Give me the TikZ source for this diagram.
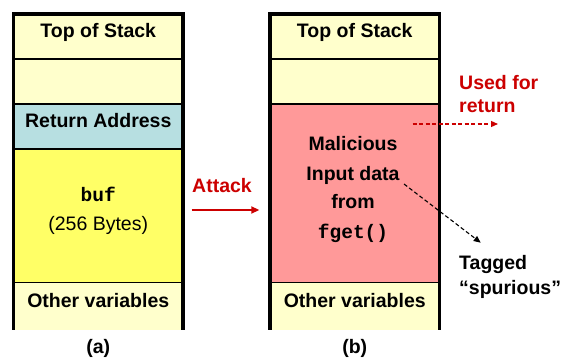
\documentclass[tikz,border=0pt]{standalone}
\usepackage{fontspec}
\setmainfont{Liberation Sans}
\setmonofont{Liberation Mono}
\usetikzlibrary{arrows.meta}
\definecolor{lightyel}{HTML}{FFFFCC}
\definecolor{retblue}{HTML}{B7DFE1}
\definecolor{bufyel}{HTML}{FFFF66}
\definecolor{malpink}{HTML}{FF9999}
\definecolor{atkred}{HTML}{CC0000}
\begin{document}
\begin{tikzpicture}[x=1pt,y=-1pt,
  cell/.style={draw=black, line width=1.3pt, minimum width=169.5pt, inner sep=0pt, outer sep=0pt, anchor=north west},
  frame/.style={line width=3.5pt, line cap=butt, line join=miter},
  txt/.style={font=\fontsize{19.5}{23}\selectfont\bfseries, anchor=base, inner sep=0pt},
  rtxt/.style={font=\fontsize{19.5}{23}\selectfont, anchor=base, inner sep=0pt},
  ttxt/.style={font=\fontsize{19.5}{23}\selectfont\ttfamily\bfseries, anchor=base, inner sep=0pt},
  redtxt/.style={txt, text=atkred},
  leftt/.style={txt, anchor=base west},
  atkarrow/.style={draw=atkred, line width=1.8pt, -{Triangle[length=8pt,width=7pt]}},
  reddash/.style={draw=atkred, line width=1.2pt, dash pattern=on 4pt off 2.5pt, -{Triangle[length=7pt,width=6pt]}},
  blackdash/.style={draw=black, line width=1.1pt, dash pattern=on 4pt off 2.5pt, -{Triangle[length=7pt,width=6pt]}}]
\useasboundingbox[fill=white] (0,0) rectangle (561,358);
% stack (a)
\node[cell, fill=lightyel, minimum height=45pt] (a1) at (13.5,14) {};
\node[cell, fill=lightyel, minimum height=45pt] (a2) at (a1.south west) {};
\node[cell, fill=retblue, minimum height=45pt] (a3) at (a2.south west) {};
\node[cell, fill=bufyel, minimum height=134pt] (a4) at (a3.south west) {};
\node[cell, fill=lightyel, draw=none, minimum height=46.5pt] (a5) at (a4.south west) {};
\draw[frame] (a5.south west) -- (a1.north west) -- (a1.north east) -- (a5.south east);
% stack (b)
\node[cell, fill=lightyel, minimum height=45pt] (b1) at (270,14) {};
\node[cell, fill=lightyel, minimum height=45pt] (b2) at (b1.south west) {};
\node[cell, fill=malpink, minimum height=179pt] (b3) at (b2.south west) {};
\node[cell, fill=lightyel, draw=none, minimum height=46.5pt] (b4) at (b3.south west) {};
\draw[frame] (b4.south west) -- (b1.north west) -- (b1.north east) -- (b4.south east);
% texts (a)
\node[txt] (ta1) at (98.25,37.3) {Top of Stack};
\node[txt] (ta3) at (98.25,127.7) {Return Address};
\node[ttxt] (ta4) at (98.25,201.7) {buf};
\node[rtxt] (ta4b) at (98.25,230.7) {(256 Bytes)};
\node[txt] (ta5) at (98.25,307.7) {Other variables};
\node[txt] (la) at (98.25,353) {(a)};
% texts (b)
\node[txt] (tb1) at (354.75,37.3) {Top of Stack};
\node[txt] (tm1) at (353,150) {Malicious};
\node[txt] (tm2) at (353,180) {Input data};
\node[txt] (tm3) at (353,208) {from};
\node[ttxt] (tm4) at (353,238) {fget()};
\node[txt] (tb5) at (354.75,307.7) {Other variables};
\node[txt] (lb) at (354.75,353) {(b)};
% side labels
\node[redtxt] (atk) at (222,192) {Attack};
\node[leftt, text=atkred] (used1) at (459,90) {Used for};
\node[leftt, text=atkred] (used2) at (459,113) {return};
\node[leftt] (tag1) at (459,269) {Tagged};
\node[leftt] (tag2) at (459,294) {``spurious''};
% arrows
\coordinate (atkS) at (191.7,210);
\coordinate (atkE) at (259.3,210);
\draw[atkarrow] (atkS) -- (atkE);
\coordinate (retS) at (412.7,124);
\coordinate (retE) at (498,124);
\draw[reddash] (retS) -- (retE);
\coordinate (tagS) at (404,184);
\coordinate (tagE) at (480.7,242.7);
\draw[blackdash] (tagS) -- (tagE);
\end{tikzpicture}
\end{document}
